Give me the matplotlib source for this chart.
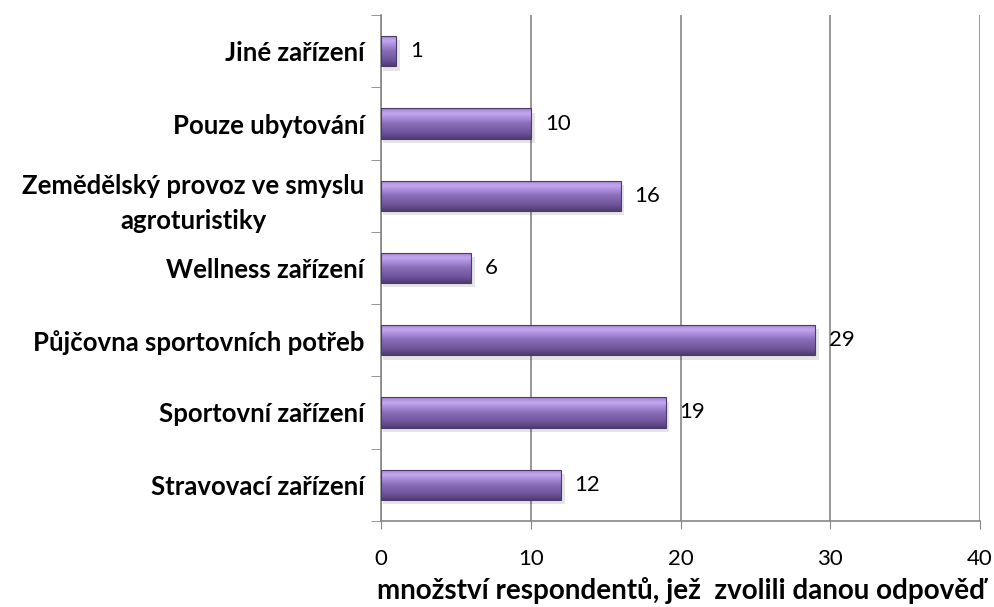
import matplotlib.pyplot as plt
import numpy as np
from matplotlib.colors import LinearSegmentedColormap

plt.rcParams['font.family'] = ['Lato', 'DejaVu Sans']

categories = ["Stravovací zařízení", "Sportovní zařízení", "Půjčovna sportovních potřeb",
              "Wellness zařízení", "Zemědělský provoz ve smyslu\nagroturistiky",
              "Pouze ubytování", "Jiné zařízení"]
values = [12, 19, 29, 6, 16, 10, 1]
xticks = [0, 10, 20, 30, 40]
xlabel = "množství respondentů, jež  zvolili danou odpověď"

fig = plt.figure(figsize=(9.95, 6.07), dpi=100)
ax = fig.add_axes([0.383, 0.142, 0.602, 0.833])

# gradient for the bars, bottom (dark) -> top (light)
cmap = LinearSegmentedColormap.from_list(
    "purp", ["#4e3c70", "#6a5196", "#7b60a8", "#8a6eb8", "#a88ad8", "#c3a8ee", "#9c80cc"])
grad = np.linspace(0, 1, 64).reshape(-1, 1)

h = 0.42
y = np.arange(len(categories))
for yi, v in zip(y, values):
    # soft shadow
    ax.add_patch(plt.Rectangle((0.1, yi - h / 2 - 0.06), v + 0.15, h, color="#000000",
                               alpha=0.10, lw=0, zorder=2))
    im = ax.imshow(grad, extent=(0, v, yi - h / 2, yi + h / 2), aspect="auto", cmap=cmap,
                   origin="lower", zorder=3)
    rect = plt.Rectangle((0, yi - h / 2), v, h, fill=False, ec="#4b3a6b", lw=0.8, zorder=4)
    ax.add_patch(rect)
    im.set_clip_path(rect)
    ax.annotate(str(v), (v, yi), xytext=(10, 0), textcoords="offset points",
                va="center", ha="left", fontsize=16)

ax.set_xlim(0, 40)
ax.set_ylim(-0.5, len(categories) - 0.5)
ax.set_xticks(xticks)
ax.set_xticklabels([str(t) for t in xticks], fontsize=16)
ax.set_yticks(y)
ax.set_yticklabels(categories, fontsize=18.5, fontweight="bold", multialignment="center",
                   linespacing=1.55)
ax.set_yticks(np.arange(len(categories) + 1) - 0.5, minor=True)
ax.tick_params(axis="y", which="major", length=0, pad=12)
ax.tick_params(axis="y", which="minor", length=7, color="#868686", direction="out")
ax.tick_params(axis="x", length=6, color="#868686", pad=14)
ax.grid(axis="x", color="#868686", lw=1.2, zorder=1)
ax.set_axisbelow(True)
for s in ["top", "right"]:
    ax.spines[s].set_visible(False)
for s in ["left", "bottom"]:
    ax.spines[s].set_color("#868686")
    ax.spines[s].set_linewidth(1.2)
ax.set_xlabel(xlabel, fontsize=20, fontweight="bold", labelpad=6)

fig.savefig("out.png", dpi=100)
